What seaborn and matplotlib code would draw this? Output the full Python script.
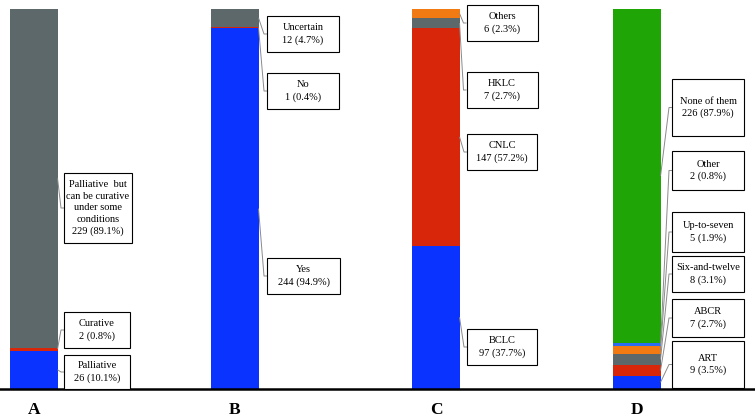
import numpy as np
import pandas as pd
import matplotlib
matplotlib.use("Agg")
import matplotlib.pyplot as plt
import seaborn as sns

# panel data (counts per segment, bottom to top)
panels = ["A", "B", "C", "D"]
a_labels = ["Palliative", "Curative", "Palliative  but\ncan be curative\nunder some\nconditions"]
a_counts = [26, 2, 229]
a_pcts = ["10.1%", "0.8%", "89.1%"]
b_labels = ["Yes", "No", "Uncertain"]
b_counts = [244, 1, 12]
b_pcts = ["94.9%", "0.4%", "4.7%"]
c_labels = ["BCLC", "CNLC", "HKLC", "Others"]
c_counts = [97, 147, 7, 6]
c_pcts = ["37.7%", "57.2%", "2.7%", "2.3%"]
d_labels = ["ART", "ABCR", "Six-and-twelve", "Up-to-seven", "Other", "None of them"]
d_counts = [9, 7, 8, 5, 2, 226]
d_pcts = ["3.5%", "2.7%", "3.1%", "1.9%", "0.8%", "87.9%"]

layer_colors = ["#0b33ff", "#d8260a", "#5d686b", "#f27a12", "#2b6df2", "#1fa506"]

all_counts = [a_counts, b_counts, c_counts, d_counts]
all_labels = [a_labels, b_labels, c_labels, d_labels]
all_pcts = [a_pcts, b_pcts, c_pcts, d_pcts]

rows = []
for p, cnts in zip(panels, all_counts):
    cum = np.cumsum(cnts)
    for k, c in enumerate(cum):
        rows.append({"panel": p, "layer": k, "top": c})
df = pd.DataFrame(rows)

plt.rcParams["font.family"] = ["Liberation Serif", "DejaVu Serif"]
fig = plt.figure(figsize=(7.55, 4.18), dpi=100)
W, H = 755, 418
ax_bot, ax_top = 389, 9
ax = fig.add_axes([0, (H - ax_bot) / H, 1, (ax_bot - ax_top) / H])

bw = 0.234
# overlay cumulative bars from the top layer down
for k in range(df["layer"].max(), -1, -1):
    sub = df[df["layer"] == k]
    sns.barplot(data=sub, x="panel", y="top", order=panels, color=layer_colors[k],
                width=bw, saturation=1, ax=ax, errorbar=None, linewidth=0)

x0, step = 34, 201
ax.set_xlim(-x0 / step, (W - x0) / step)
ymax = 257
ax.set_ylim(0, ymax)
for s in ["left", "top", "right"]:
    ax.spines[s].set_visible(False)
ax.spines["bottom"].set_linewidth(1.8)
ax.set_yticks([])
ax.set_xlabel("")
ax.set_ylabel("")
ax.tick_params(axis="x", length=0, pad=9.5)
for t in ax.get_xticklabels():
    t.set_fontweight("bold")
    t.set_fontsize(12.5)


def px2d(px, py):
    return (px - x0) / step, (ax_bot - py) / (ax_bot - ax_top) * ymax


# label box layout in pixels, bottom to top: (center x, center y, width, height)
boxes = [
    [(97, 372, 66, 34), (97, 330, 66, 36), (98, 208, 68, 70)],
    [(303.5, 276, 73, 36), (303, 91, 72, 36), (303, 34, 72, 36)],
    [(502, 347, 70, 36), (502, 152, 70, 36), (502, 90, 71, 36), (502, 23, 71, 36)],
    [(708, 364.5, 72, 47), (708, 318, 72, 38), (708, 274, 72, 36),
     (708, 232, 72, 40), (708, 170.5, 72, 39), (708, 107.5, 72, 57)],
]

for i, (cnts, labs, pcts) in enumerate(zip(all_counts, all_labels, all_pcts)):
    cum = np.concatenate([[0], np.cumsum(cnts)])
    for k in range(len(cnts)):
        cx, cy, bwpx, bhpx = boxes[i][k]
        mid = (cum[k] + cum[k + 1]) / 2
        edge_x = i + bw / 2
        lx, ly = px2d(cx - bwpx / 2, cy)
        kx, _ = px2d(cx - bwpx / 2 - 3, cy)
        ax.plot([edge_x, kx, lx], [mid, ly, ly], color="#8a8a8a", lw=0.7,
                solid_capstyle="butt", clip_on=False, zorder=3)
        bx, by = px2d(cx - bwpx / 2, cy + bhpx / 2)
        bx2, by2 = px2d(cx + bwpx / 2, cy - bhpx / 2)
        ax.add_patch(plt.Rectangle((bx, by), bx2 - bx, by2 - by, fc="white",
                                   ec="black", lw=0.8, clip_on=False, zorder=4))
        tx, ty = px2d(cx, cy)
        ls = 1.35 if "\n" in labs[k] else 1.45
        ax.text(tx, ty, f"{labs[k]}\n{cnts[k]} ({pcts[k]})", ha="center", va="center",
                fontsize=7.5, linespacing=ls, zorder=5)

fig.savefig("out.png", dpi=100)
